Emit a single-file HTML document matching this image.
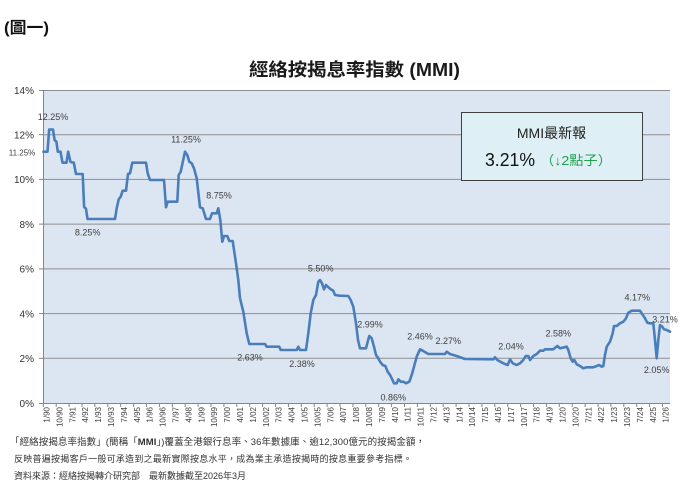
<!DOCTYPE html>
<html>
<head>
<meta charset="utf-8">
<style>
  html,body{margin:0;padding:0;background:#ffffff;}
  body{width:697px;height:499px;overflow:hidden;}
  svg{display:block;}
  .f{font-family:"Liberation Sans","Noto Sans CJK TC",sans-serif;}
</style>
</head>
<body>
<svg width="697" height="499" viewBox="0 0 697 499" xmlns="http://www.w3.org/2000/svg" class="f">
  <rect x="0" y="0" width="697" height="499" fill="#ffffff"/>

  <!-- header -->
  <text x="4" y="33" font-size="16" font-weight="bold" fill="#111" textLength="45" lengthAdjust="spacingAndGlyphs">(圖一)</text>
  <text x="249" y="76" font-size="18" font-weight="bold" fill="#1a1a1a" textLength="211" lengthAdjust="spacingAndGlyphs">經絡按揭息率指數 (MMI)</text>

  <!-- plot area -->
  <rect x="43" y="90" width="627" height="313" fill="#dce6f2"/>

  <!-- gridlines -->
  <g stroke="#8e8e8e" stroke-width="1">
    <line x1="43" y1="90.5" x2="670" y2="90.5"/>
    <line x1="43" y1="134.7" x2="670" y2="134.7"/>
    <line x1="43" y1="179.4" x2="670" y2="179.4"/>
    <line x1="43" y1="224.1" x2="670" y2="224.1"/>
    <line x1="43" y1="268.9" x2="670" y2="268.9"/>
    <line x1="43" y1="313.6" x2="670" y2="313.6"/>
    <line x1="43" y1="358.3" x2="670" y2="358.3"/>
  </g>

  <!-- axes -->
  <g stroke="#868686" stroke-width="1">
    <line x1="43.5" y1="90" x2="43.5" y2="403"/>
    <line x1="43" y1="403.5" x2="670" y2="403.5"/>
    <line x1="39" y1="90.5" x2="43" y2="90.5"/>
    <line x1="39" y1="134.7" x2="43" y2="134.7"/>
    <line x1="39" y1="179.4" x2="43" y2="179.4"/>
    <line x1="39" y1="224.1" x2="43" y2="224.1"/>
    <line x1="39" y1="268.9" x2="43" y2="268.9"/>
    <line x1="39" y1="313.6" x2="43" y2="313.6"/>
    <line x1="39" y1="358.3" x2="43" y2="358.3"/>
    <line x1="39" y1="403.5" x2="43" y2="403.5"/>
  </g>
  <!-- x ticks -->
  <g stroke="#868686" stroke-width="1">
    <line x1="43.3" y1="403" x2="43.3" y2="407"/><line x1="56.2" y1="403" x2="56.2" y2="407"/><line x1="69.1" y1="403" x2="69.1" y2="407"/><line x1="82.0" y1="403" x2="82.0" y2="407"/><line x1="94.9" y1="403" x2="94.9" y2="407"/><line x1="107.8" y1="403" x2="107.8" y2="407"/><line x1="120.7" y1="403" x2="120.7" y2="407"/><line x1="133.6" y1="403" x2="133.6" y2="407"/><line x1="146.5" y1="403" x2="146.5" y2="407"/><line x1="159.4" y1="403" x2="159.4" y2="407"/><line x1="172.3" y1="403" x2="172.3" y2="407"/><line x1="185.2" y1="403" x2="185.2" y2="407"/><line x1="198.1" y1="403" x2="198.1" y2="407"/><line x1="211.0" y1="403" x2="211.0" y2="407"/><line x1="223.9" y1="403" x2="223.9" y2="407"/><line x1="236.8" y1="403" x2="236.8" y2="407"/><line x1="249.7" y1="403" x2="249.7" y2="407"/><line x1="262.6" y1="403" x2="262.6" y2="407"/><line x1="275.5" y1="403" x2="275.5" y2="407"/><line x1="288.4" y1="403" x2="288.4" y2="407"/><line x1="301.3" y1="403" x2="301.3" y2="407"/><line x1="314.2" y1="403" x2="314.2" y2="407"/><line x1="327.1" y1="403" x2="327.1" y2="407"/><line x1="340.0" y1="403" x2="340.0" y2="407"/><line x1="352.9" y1="403" x2="352.9" y2="407"/><line x1="365.8" y1="403" x2="365.8" y2="407"/><line x1="378.7" y1="403" x2="378.7" y2="407"/><line x1="391.6" y1="403" x2="391.6" y2="407"/><line x1="404.5" y1="403" x2="404.5" y2="407"/><line x1="417.4" y1="403" x2="417.4" y2="407"/><line x1="430.3" y1="403" x2="430.3" y2="407"/><line x1="443.2" y1="403" x2="443.2" y2="407"/><line x1="456.1" y1="403" x2="456.1" y2="407"/><line x1="469.0" y1="403" x2="469.0" y2="407"/><line x1="481.9" y1="403" x2="481.9" y2="407"/><line x1="494.8" y1="403" x2="494.8" y2="407"/><line x1="507.7" y1="403" x2="507.7" y2="407"/><line x1="520.6" y1="403" x2="520.6" y2="407"/><line x1="533.5" y1="403" x2="533.5" y2="407"/><line x1="546.4" y1="403" x2="546.4" y2="407"/><line x1="559.3" y1="403" x2="559.3" y2="407"/><line x1="572.2" y1="403" x2="572.2" y2="407"/><line x1="585.1" y1="403" x2="585.1" y2="407"/><line x1="598.0" y1="403" x2="598.0" y2="407"/><line x1="610.9" y1="403" x2="610.9" y2="407"/><line x1="623.8" y1="403" x2="623.8" y2="407"/><line x1="636.7" y1="403" x2="636.7" y2="407"/><line x1="649.6" y1="403" x2="649.6" y2="407"/><line x1="662.5" y1="403" x2="662.5" y2="407"/>
  </g>

  <!-- y labels -->
  <g font-size="10" fill="#333" text-anchor="end">
    <text x="34" y="94">14%</text>
    <text x="34" y="138.5">12%</text>
    <text x="34" y="183">10%</text>
    <text x="34" y="228">8%</text>
    <text x="34" y="272.5">6%</text>
    <text x="34" y="317.5">4%</text>
    <text x="34" y="362">2%</text>
    <text x="34" y="407">0%</text>
  </g>

  <!-- x labels -->
  <g font-size="8" fill="#404040" text-anchor="end">
    <text transform="translate(49.5,407) rotate(-90)">1/90</text>
    <text transform="translate(62.4,407) rotate(-90)">10/90</text>
    <text transform="translate(75.3,407) rotate(-90)">7/91</text>
    <text transform="translate(88.2,407) rotate(-90)">4/92</text>
    <text transform="translate(101.1,407) rotate(-90)">1/93</text>
    <text transform="translate(114.0,407) rotate(-90)">10/93</text>
    <text transform="translate(126.9,407) rotate(-90)">7/94</text>
    <text transform="translate(139.8,407) rotate(-90)">4/95</text>
    <text transform="translate(152.7,407) rotate(-90)">1/96</text>
    <text transform="translate(165.6,407) rotate(-90)">10/96</text>
    <text transform="translate(178.5,407) rotate(-90)">7/97</text>
    <text transform="translate(191.4,407) rotate(-90)">4/98</text>
    <text transform="translate(204.3,407) rotate(-90)">1/99</text>
    <text transform="translate(217.2,407) rotate(-90)">10/99</text>
    <text transform="translate(230.1,407) rotate(-90)">7/00</text>
    <text transform="translate(243.0,407) rotate(-90)">4/01</text>
    <text transform="translate(255.9,407) rotate(-90)">1/02</text>
    <text transform="translate(268.8,407) rotate(-90)">10/02</text>
    <text transform="translate(281.7,407) rotate(-90)">7/03</text>
    <text transform="translate(294.6,407) rotate(-90)">4/04</text>
    <text transform="translate(307.5,407) rotate(-90)">1/05</text>
    <text transform="translate(320.4,407) rotate(-90)">10/05</text>
    <text transform="translate(333.3,407) rotate(-90)">7/06</text>
    <text transform="translate(346.2,407) rotate(-90)">4/07</text>
    <text transform="translate(359.1,407) rotate(-90)">1/08</text>
    <text transform="translate(372.0,407) rotate(-90)">10/08</text>
    <text transform="translate(384.9,407) rotate(-90)">7/09</text>
    <text transform="translate(397.8,407) rotate(-90)">4/10</text>
    <text transform="translate(410.7,407) rotate(-90)">1/11</text>
    <text transform="translate(423.6,407) rotate(-90)">10/11</text>
    <text transform="translate(436.5,407) rotate(-90)">7/12</text>
    <text transform="translate(449.4,407) rotate(-90)">4/13</text>
    <text transform="translate(462.3,407) rotate(-90)">1/14</text>
    <text transform="translate(475.2,407) rotate(-90)">10/14</text>
    <text transform="translate(488.1,407) rotate(-90)">7/15</text>
    <text transform="translate(501.0,407) rotate(-90)">4/16</text>
    <text transform="translate(513.9,407) rotate(-90)">1/17</text>
    <text transform="translate(526.8,407) rotate(-90)">10/17</text>
    <text transform="translate(539.7,407) rotate(-90)">7/18</text>
    <text transform="translate(552.6,407) rotate(-90)">4/19</text>
    <text transform="translate(565.5,407) rotate(-90)">1/20</text>
    <text transform="translate(578.4,407) rotate(-90)">10/20</text>
    <text transform="translate(591.3,407) rotate(-90)">7/21</text>
    <text transform="translate(604.2,407) rotate(-90)">4/22</text>
    <text transform="translate(617.1,407) rotate(-90)">1/23</text>
    <text transform="translate(630.0,407) rotate(-90)">10/23</text>
    <text transform="translate(642.9,407) rotate(-90)">7/24</text>
    <text transform="translate(655.8,407) rotate(-90)">4/25</text>
    <text transform="translate(668.7,407) rotate(-90)">1/26</text>
  </g>

  <!-- series -->
  <polyline fill="none" stroke="#4a7ebb" stroke-width="2.6" stroke-linejoin="round" stroke-linecap="round"
    points="43.5,151.7 47.5,151.7 49.2,129.5 53,129.5 54.6,140 56.4,141.7 57.8,151.7 60.5,151.7 62.5,162.7 66.5,162.7 68.2,151.7 70.5,162 73.8,162.7 76,174 82.7,174 84.1,206.8 86,208.8 87.5,219 115,219 116.7,208.3 118.7,199.3 120.7,196.7 122.7,190.7 126,190.7 128,174 130,173.3 132.3,162.7 146,162.7 147.7,173.3 150,180 164,180 166,207.3 167.7,201.7 177.3,201.7 178.7,175 180.7,171.7 185,151.7 187.3,155 189.3,161.7 191.7,163.3 194,168.3 196.7,178.3 200,207.3 202.7,208.3 206,219 210,219 212,213.3 216.7,213.3 218.3,208.3 220.3,220 222.3,241.7 224,236 227.3,236 229.3,241 232.7,241 236,263.3 238.3,280 240,298.3 243.3,311.7 246.7,333.3 249.3,344 265,344 266.7,346.7 279.3,346.7 280.7,350 296.7,350 298.3,346.7 300,350 306,350 308.3,333.3 310.7,313.3 313.3,300 316,295 318.3,281.7 320,280 322,283.3 324,289.3 326,285 328.3,287.3 330.7,289.3 333.3,290.7 335,295 340,295.7 348.3,296 350.7,300 353.3,306.7 356,323.3 358,340 360,348.3 366,348.3 367.7,341.7 369.3,336 371.7,338.3 374,346.7 376,355 378.3,358.3 380,361.7 382.7,365 385.3,366 387.7,371.7 390,375 391.7,378.3 394,383.3 396.7,383.3 398.3,379.3 400.7,381.7 403.3,381.7 406,383.3 409.3,381.7 411.7,375 414,366.7 416.7,356.7 420,349.3 422.7,350.7 428.3,354 445,354 446.7,351.7 450,354 456.7,356 465,359 493.3,359.3 495,357.3 497.3,360 503.3,363.3 507.7,365 510,359.3 512.7,363.3 516.7,365 520,363.3 523.3,360 525.7,356 528.3,356 530,360 533.3,356 536.7,354 540,350.7 543.3,350.7 545,349.3 553.3,349.3 557.3,346 560,348.3 566.7,346.7 568.3,350 570.7,358.3 572.7,361.7 574.3,360 576.7,364.3 580,366 583.3,368.3 586.7,367.3 593.3,367.3 596.7,366 599.3,365 601.7,366.7 603.3,366 605,355 606.7,346.7 610,341.7 612.7,333.3 614,326 616.7,326 620,323.3 623.3,321.7 626,318.3 628.3,312.7 631.7,310.7 640,310.7 641.7,313.3 645,318.3 647.3,322.7 650,323.3 653.3,323.3 655,340 656.7,358.3 658.3,340 660,325 662.3,326.7 664,329.3 666.7,330 670,331.7"/>

  <!-- data labels -->
  <g font-size="9" fill="#404040" text-anchor="middle">
    <text x="53" y="120">12.25%</text>
    <text x="22" y="155.5" font-size="8">11.25%</text>
    <text x="87.7" y="235.7">8.25%</text>
    <text x="186" y="142.3">11.25%</text>
    <text x="219" y="198.3">8.75%</text>
    <text x="250" y="360.3">2.63%</text>
    <text x="302" y="367">2.38%</text>
    <text x="320.7" y="271.7">5.50%</text>
    <text x="370" y="327.7">2.99%</text>
    <text x="393.3" y="400.3">0.86%</text>
    <text x="420" y="339.7">2.46%</text>
    <text x="448.3" y="344">2.27%</text>
    <text x="511" y="349.7">2.04%</text>
    <text x="558.3" y="336.3">2.58%</text>
    <text x="637.3" y="300.3">4.17%</text>
    <text x="665" y="322.3">3.21%</text>
    <text x="656.7" y="373">2.05%</text>
  </g>

  <!-- MMI box -->
  <rect x="461.5" y="112.5" width="181" height="68" fill="#def0f5" stroke="#3f3f3f" stroke-width="1"/>
  <text x="551.5" y="138" font-size="14" fill="#222" text-anchor="middle">MMI最新報</text>
  <text x="485" y="166" font-size="18" fill="#111" textLength="50" lengthAdjust="spacingAndGlyphs">3.21%</text>
  <text x="540" y="165" font-size="13" fill="#22a050" textLength="72" lengthAdjust="spacingAndGlyphs">（↓2點子）</text>

  <!-- footer -->
  <text x="10" y="445" font-size="9.5" fill="#333" textLength="415" lengthAdjust="spacing">「經絡按揭息率指數」(簡稱「<tspan font-weight="bold">MMI</tspan>」)覆蓋全港銀行息率、36年數據庫、逾12,300億元的按揭金額，</text>
  <text x="14" y="462" font-size="9" fill="#333" textLength="398" lengthAdjust="spacing">反映普遍按揭客戶一般可承造到之最新實際按息水平，成為業主承造按揭時的按息重要參考指標。</text>
  <text x="14" y="479" font-size="9" fill="#333" textLength="232" lengthAdjust="spacing">資料來源：經絡按揭轉介研究部　最新數據截至2026年3月</text>
</svg>
</body>
</html>
